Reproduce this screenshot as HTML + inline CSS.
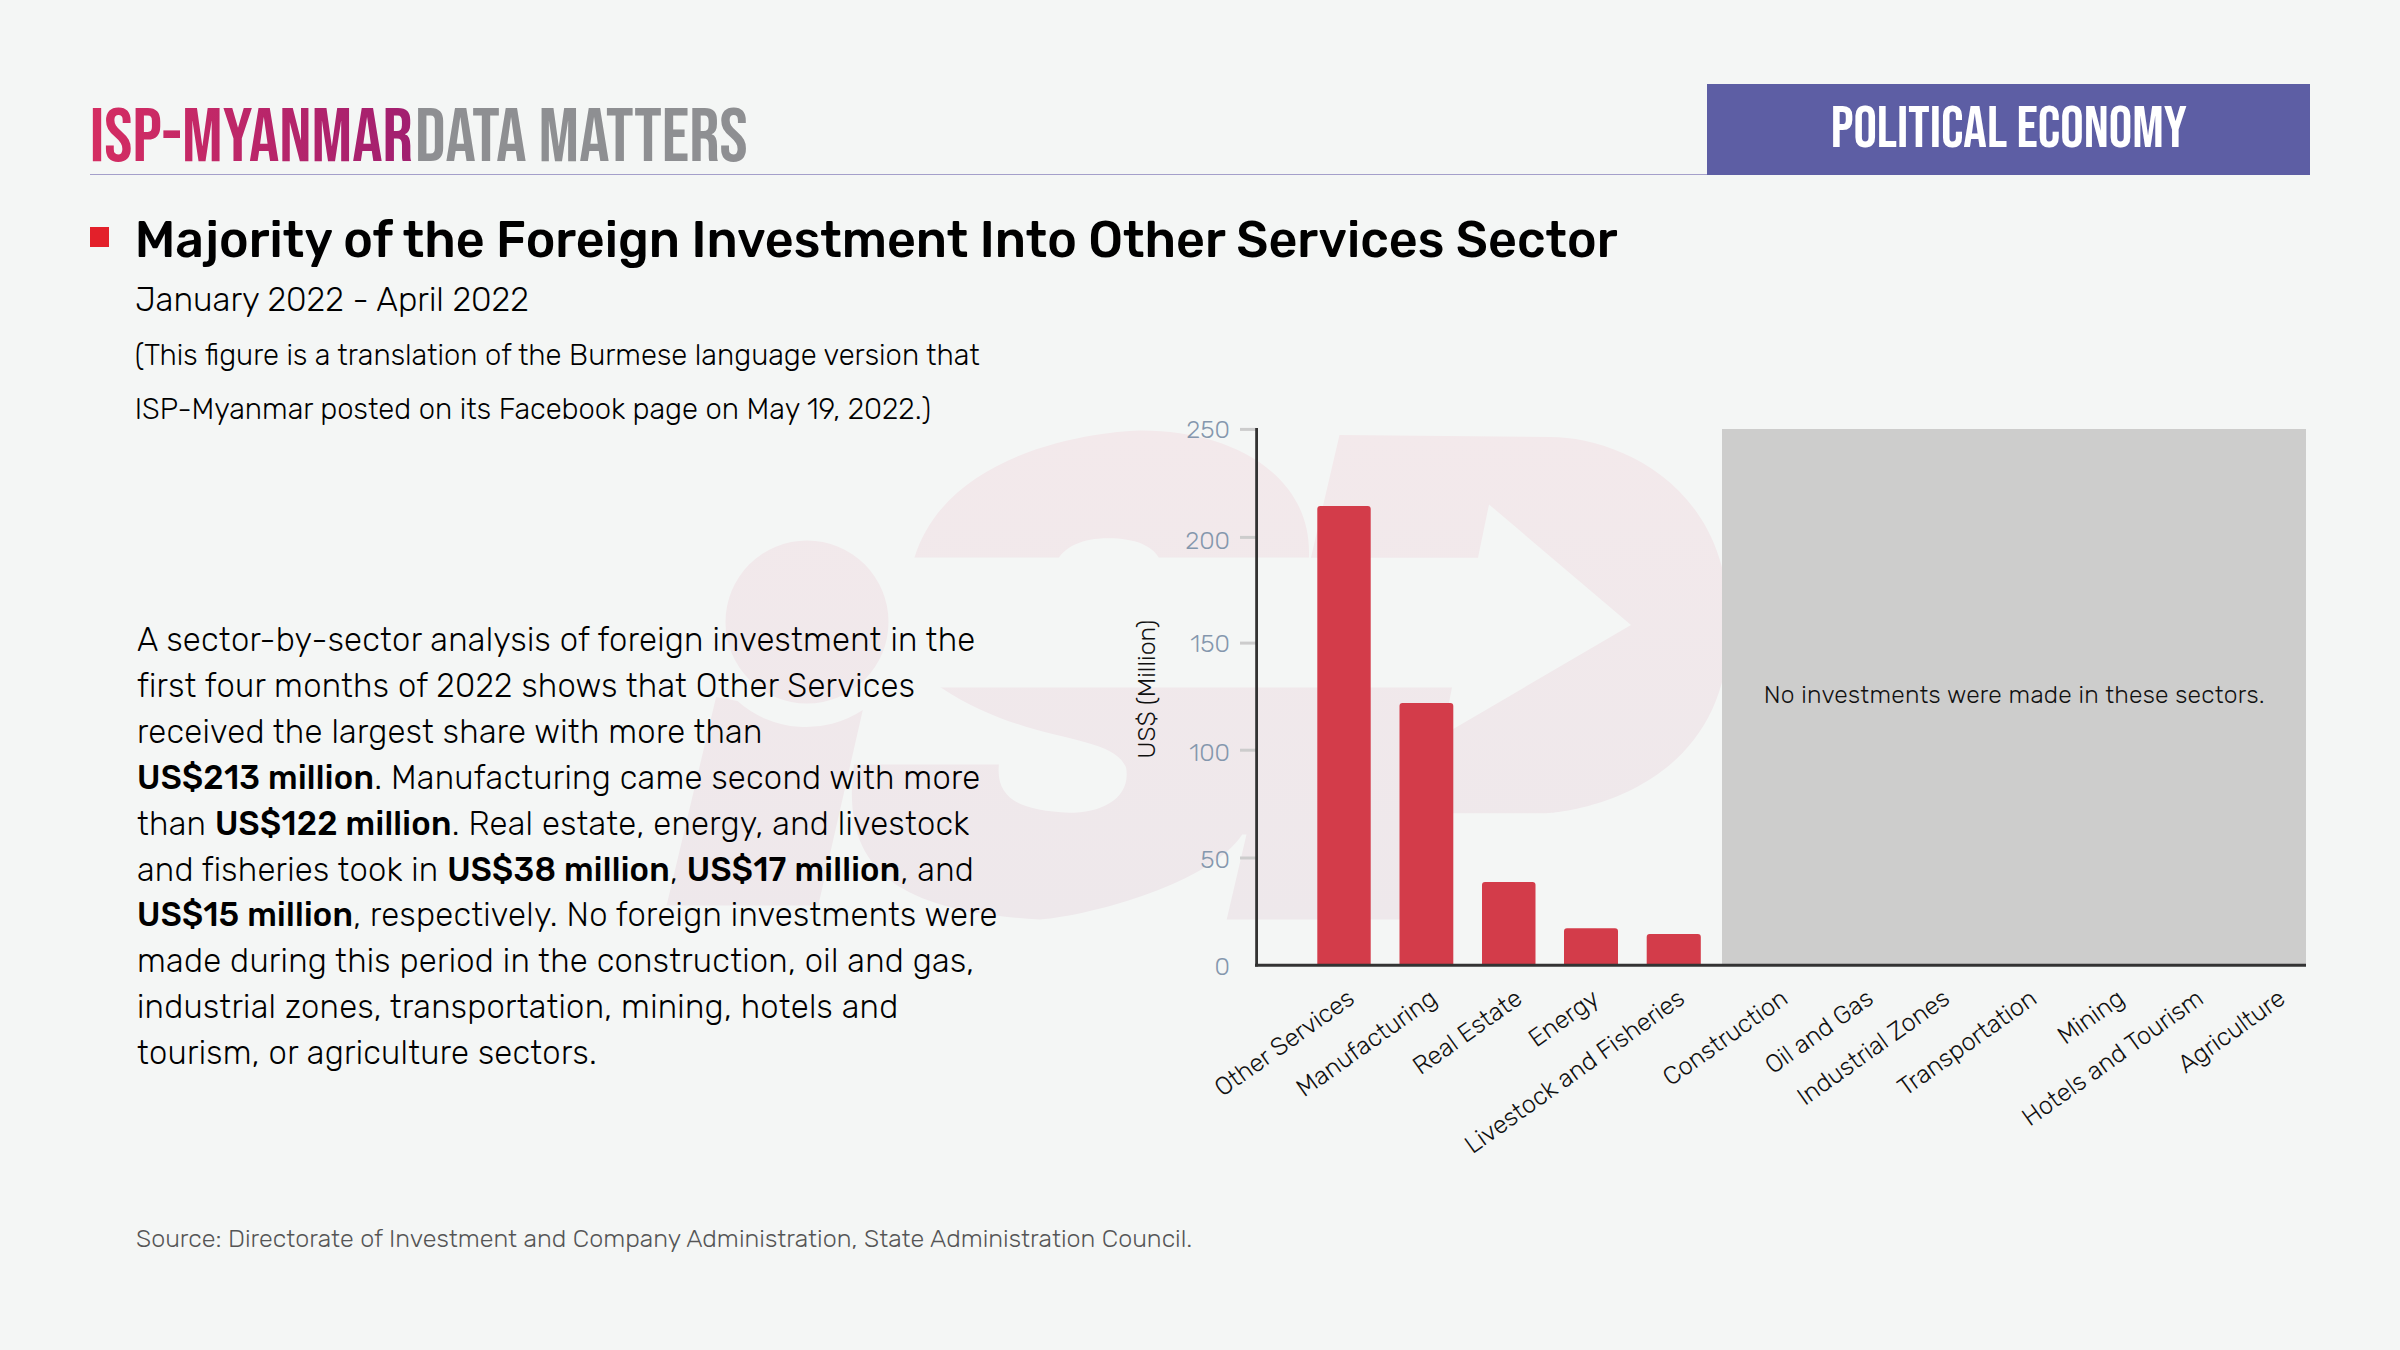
<!DOCTYPE html>
<html>
<head>
<meta charset="utf-8">
<style>
html,body{margin:0;padding:0;}
body{width:2400px;height:1350px;background:#f4f6f5;position:relative;overflow:hidden;font-family:"Rubik","Liberation Sans",sans-serif;color:#111;}
.abs{position:absolute;white-space:nowrap;}
#wm{position:absolute;left:0;top:0;}
.logo{font-family:"Bebas Neue","Liberation Sans",sans-serif;}
.hline{position:absolute;left:90px;top:174px;width:1620px;height:1px;background:#a49fca;}
.tag{position:absolute;left:1707px;top:84px;width:603px;height:91px;background:#5d5ea4;color:#fff;font-family:"Bebas Neue","Liberation Sans Narrow","Liberation Sans",sans-serif;font-size:59px;line-height:91px;text-align:center;}
.bullet{position:absolute;left:90px;top:227px;width:19px;height:20px;background:#e3202a;}
.title{left:134.7px;top:207px;font-size:50.1px;font-weight:500;line-height:66px;color:#000;}
.sub{left:135.2px;top:277.8px;font-size:33.3px;font-weight:300;line-height:44px;color:#000;}
.note{left:134.7px;top:328px;font-size:29.2px;font-weight:300;line-height:54px;color:#000;}
.body{left:137px;top:617px;font-size:32.8px;letter-spacing:0.27px;font-weight:300;line-height:45.9px;color:#000;}
.body b{font-weight:500;}
.src{left:136px;top:1222px;font-size:25.1px;font-weight:300;line-height:34px;color:#555;}
</style>
</head>
<body>
<svg id="wm" width="2400" height="1350" viewBox="0 0 2400 1350">
  <defs><linearGradient id="wg" x1="0" y1="430" x2="0" y2="920" gradientUnits="userSpaceOnUse"><stop offset="0" stop-color="#f3e9eb"/><stop offset="1" stop-color="#eee8eb"/></linearGradient></defs>
  <g fill="url(#wg)">
    <circle cx="807" cy="622" r="81.5"/>
    <path d="M716.1,696.9 L737.5,701 A103,103 0 0,0 862.8,710 L818.3,905.5 L666.6,905.5 Z"/>
    <path d="M914.4,557.8 C949.8,442.9 1115.1,430.5 1142,430.5 C1233.3,430.5 1312.8,475.9 1308.9,557.8 L1158.9,557.8 C1152,546 1136,538.3 1108,538.3 C1082,538.3 1066,547 1058.9,557.8 Z"/>
    <path d="M940,686.9 L1292,686.9 L1249,834.4 L1242.2,834.4 C1211.2,882.1 1093.8,915 1040,919.5 C898.5,911.6 839.8,871 853.9,764.6 L998.9,764.6 C995.1,802.7 1026.5,810.5 1068.9,812.8 C1100,812.8 1126.7,800 1126.7,774.4 C1126.7,769 1126,766 1124.4,764.4 C1106.4,732.4 1026.9,744.8 940,686.9 Z"/>
    <path d="M1339.5,435 L1550.8,437 C1611.4,437 1729,480 1729,624 C1730.6,798 1557.8,813.2 1546,813.2 L1424.4,813.2 L1399.6,919.4 L1226.7,919.4 Z"/>
  </g>
  <path fill="#f4f6f5" d="M900,557.8 L1478,557.8 L1489,504.4 L1631,625 L1442.6,735.2 L1452,687.5 L900,687.5 Z"/>
</svg>

<svg class="logo" style="position:absolute;left:0;top:0;overflow:visible" width="800" height="200" viewBox="0 0 800 200">
  <defs><linearGradient id="lg" x1="90" y1="0" x2="412" y2="0" gradientUnits="userSpaceOnUse"><stop offset="0" stop-color="#d52d62"/><stop offset="1" stop-color="#a11f70"/></linearGradient></defs>
  <text x="89.8" y="160.5" font-size="75.8" textLength="323.2" lengthAdjust="spacingAndGlyphs" fill="url(#lg)">ISP-MYANMAR</text>
  <text x="414.9" y="160.5" font-size="75.8" textLength="332.8" lengthAdjust="spacingAndGlyphs" fill="#8e8f92">DATA MATTERS</text>
</svg>
<div class="hline"></div>
<div class="tag"></div>
<svg style="position:absolute;left:0;top:0;overflow:visible" width="2400" height="200" viewBox="0 0 2400 200"><text x="2008.85" y="146.5" font-family="Bebas Neue, Liberation Sans, sans-serif" font-size="59" fill="#fff" text-anchor="middle" textLength="356.2" lengthAdjust="spacingAndGlyphs">POLITICAL ECONOMY</text></svg>

<div class="bullet"></div>
<div class="abs title">Majority of the Foreign Investment Into Other Services Sector</div>
<div class="abs sub">January 2022 - April 2022</div>
<div class="abs note">(This figure is a translation of the Burmese language version that<br>ISP-Myanmar posted on its Facebook page on May 19, 2022.)</div>

<div class="abs body">A sector-by-sector analysis of foreign investment in the<br>first four months of 2022 shows that Other Services<br>received the largest share with more than<br><b>US$213 million</b>. Manufacturing came second with more<br>than <b>US$122 million</b>. Real estate, energy, and livestock<br>and fisheries took in <b>US$38 million</b>, <b>US$17 million</b>, and<br><b>US$15 million</b>, respectively. No foreign investments were<br>made during this period in the construction, oil and gas,<br>industrial zones, transportation, mining, hotels and<br>tourism, or agriculture sectors.</div>

<div class="abs src">Source: Directorate of Investment and Company Administration, State Administration Council.</div>

<svg id="chart" style="position:absolute;left:0;top:0" width="2400" height="1350" viewBox="0 0 2400 1350" font-family="Rubik, Liberation Sans, sans-serif">
  <!-- gray box -->
  <rect x="1722" y="429" width="584" height="536" fill="#cdcdcc"/>
  <text x="2014.3" y="703" font-size="24.6" letter-spacing="0.24" font-weight="300" fill="#111" text-anchor="middle">No investments were made in these sectors.</text>
  <!-- ticks -->
  <g stroke="#cccccc" stroke-width="3">
    <line x1="1240" y1="429.4" x2="1256" y2="429.4"/>
    <line x1="1240" y1="537.4" x2="1256" y2="537.4"/>
    <line x1="1240" y1="643.1" x2="1256" y2="643.1"/>
    <line x1="1240" y1="750.2" x2="1256" y2="750.2"/>
    <line x1="1240" y1="858" x2="1256" y2="858"/>
  </g>
  <g font-size="25" font-weight="300" fill="#8497ad" text-anchor="end">
    <text x="1230" y="437.8">250</text>
    <text x="1230" y="548.9">200</text>
    <text x="1230" y="651.8">150</text>
    <text x="1230" y="760.7">100</text>
    <text x="1230" y="867.8">50</text>
    <text x="1230" y="974.8">0</text>
  </g>
  <text transform="translate(1155.3,689.2) rotate(-90)" font-size="25" font-weight="300" fill="#111" text-anchor="middle">US$ (Million)</text>
  <!-- bars -->
  <g fill="#d33c4a">
    <path d="M1317.3 965 V509 a3 3 0 0 1 3 -3 H1367.7 a3 3 0 0 1 3 3 V965 Z"/>
    <path d="M1399.5 965 V706 a3 3 0 0 1 3 -3 H1450.3 a3 3 0 0 1 3 3 V965 Z"/>
    <path d="M1482 965 V885 a3 3 0 0 1 3 -3 H1532.5 a3 3 0 0 1 3 3 V965 Z"/>
    <path d="M1564 965 V931.3 a3 3 0 0 1 3 -3 H1615 a3 3 0 0 1 3 3 V965 Z"/>
    <path d="M1646.7 965 V937 a3 3 0 0 1 3 -3 H1697.8 a3 3 0 0 1 3 3 V965 Z"/>
  </g>
  <!-- axes -->
  <line x1="1256.6" y1="428" x2="1256.6" y2="966.6" stroke="#333" stroke-width="2.8"/>
  <line x1="1255" y1="965.15" x2="2306" y2="965.15" stroke="#333" stroke-width="3"/>
  <!-- x labels -->
  <g id="xl" font-size="25" font-weight="300" fill="#111" text-anchor="end">
    <text transform="translate(1356.1,1001.9) rotate(-35.5)">Other Services</text>
    <text transform="translate(1438.5,1001.9) rotate(-35.5)">Manufacturing</text>
    <text transform="translate(1523.8,1001.9) rotate(-35.5)">Real Estate</text>
    <text transform="translate(1600.8,1001.9) rotate(-35.5)">Energy</text>
    <text transform="translate(1686.3,1001.9) rotate(-35.5)">Livestock and Fisheries</text>
    <text transform="translate(1789.5,1001.9) rotate(-35.5)">Construction</text>
    <text transform="translate(1874.9,1001.9) rotate(-35.5)">Oil and Gas</text>
    <text transform="translate(1951.3,1001.9) rotate(-35.5)">Industrial Zones</text>
    <text transform="translate(2038.4,1001.9) rotate(-35.5)">Transportation</text>
    <text transform="translate(2126,1001.9) rotate(-35.5)">Mining</text>
    <text transform="translate(2205.1,1001.9) rotate(-35.5)">Hotels and Tourism</text>
    <text transform="translate(2286.9,1001.9) rotate(-35.5)">Agriculture</text>
  </g>
</svg>
</body>
</html>
